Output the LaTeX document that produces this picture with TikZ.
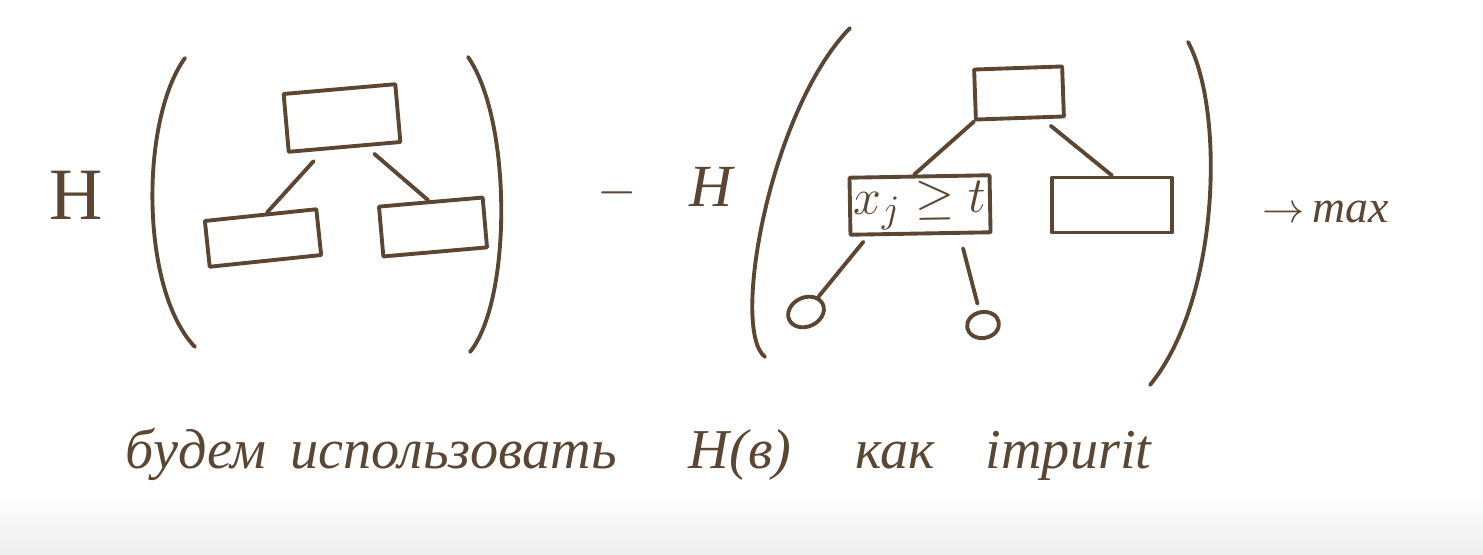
\documentclass[tikz,border=0pt]{standalone}
\usepackage{fontspec}
\setmainfont{Liberation Serif}
\usetikzlibrary{positioning,shapes.geometric}
\definecolor{ink}{HTML}{5A4632}
\tikzset{
  pen/.style={draw=ink,line width=1.1pt,line cap=round,line join=round},
  tbox/.style={pen,rectangle,inner sep=0pt,minimum width=#1},
  tbox/.default=1cm,
  leaf/.style={pen,ellipse,inner sep=0pt,minimum width=0.37cm,minimum height=0.29cm},
  word/.style={text=ink,anchor=base west,inner sep=0pt,font=\fontsize{16}{19}\selectfont\itshape},
}

\begin{document}
\begin{tikzpicture}[x=0.01cm,y=-0.01cm]
\useasboundingbox (0,0) rectangle (1483,555);
\shade[top color=white,bottom color=black!7] (0,495) rectangle (1483,555);
% H( tree )
\node[text=ink,font=\fontsize{21}{21}\selectfont] (H1) at (76,195) {H};
\draw[pen] (185,58) .. controls (140,120) and (140,290) .. (195,347);
\draw[pen] (468,57) .. controls (512,120) and (512,300) .. (470,352);
\node[tbox=1.12cm,minimum height=0.58cm,rotate=5] (rootA) at (342,118) {};
\node[tbox=1.12cm,minimum height=0.46cm,rotate=6] (leftA) at (263,238) {};
\node[tbox=1.04cm,minimum height=0.5cm,rotate=5] (rightA) at (433,227) {};
\draw[pen,shorten <=4pt] (rootA.-125) -- (leftA.75);
\draw[pen,shorten <=3pt] (rootA.-55) -- (rightA.95);
% minus H( split tree )
\node[text=ink,font=\fontsize{14}{14}\selectfont] (minus) at (617,193) {$-$};
\node[text=ink,font=\fontsize{17}{17}\selectfont\itshape] (H2) at (711,187) {H};
\draw[pen] (850,28) .. controls (770,110) and (730,330) .. (765,357);
\draw[pen] (1188,42) .. controls (1225,110) and (1220,300) .. (1150,385);
\node[tbox=0.88cm,minimum height=0.5cm,rotate=2] (rootB) at (1019,93) {};
\node[tbox=1.4cm,minimum height=0.57cm,rotate=1,text=ink,font=\fontsize{15}{16}\selectfont] (xB) at (920,205) {$x_j \geq t$};
\node[tbox=1.2cm,minimum height=0.55cm] (rightB) at (1112,205) {};
\node[leaf,rotate=25] (leafL) at (806,312) {};
\node[leaf,rotate=10,minimum width=0.32cm,minimum height=0.26cm] (leafR) at (983,325) {};
\draw[pen] (rootB.south west) -- (xB.100);
\draw[pen,shorten <=3pt] (rootB.-50) -- (rightB.north);
\draw[pen,shorten <=2pt] (xB.-150) -- (leafL);
\draw[pen,shorten <=4pt,shorten >=2pt] (xB.-38) -- (leafR);
\node[text=ink,anchor=west,font=\fontsize{13}{14}\selectfont] (maxB) at (1250,212) {$\to$\,\textit{max}};
% caption
\foreach \w/\x [count=\i] in {будем/125,использовать/290,{H(в)}/688,как/855,impurit/985}
  \node[word] (w\i) at (\x,468) {\w};
\end{tikzpicture}
\end{document}
